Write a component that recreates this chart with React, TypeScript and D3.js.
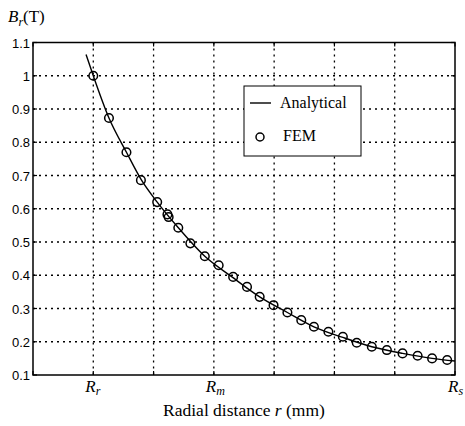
import React from "react";
import * as d3 from "d3";

// grid units along r: 0 = left axis, 7 = R_s
const xTicks = [0, 1, 2, 3, 4, 5, 6, 7];
const xTickLabels = [
  { pos: 1, main: "R", sub: "r" },
  { pos: 3, main: "R", sub: "m" },
  { pos: 7, main: "R", sub: "s" },
];
const yTicks = [0.1, 0.2, 0.3, 0.4, 0.5, 0.6, 0.7, 0.8, 0.9, 1, 1.1];

// analytical curve
const lineR = [0.88, 1.0, 1.26, 1.55, 1.8, 2.06, 2.4, 2.85, 3.3, 3.76, 4.22, 4.66, 5.14, 5.62, 6.13, 6.62, 7.0];
const lineB = [1.064, 1.0, 0.873, 0.77, 0.686, 0.62, 0.545, 0.457, 0.395, 0.335, 0.288, 0.245, 0.213, 0.185, 0.165, 0.15, 0.142];

// FEM points
const femR = [1.0, 1.26, 1.55, 1.79, 2.06, 2.23, 2.25, 2.41, 2.61, 2.85, 3.08, 3.32, 3.55, 3.76, 3.99, 4.22, 4.45, 4.66, 4.9, 5.14, 5.37, 5.62, 5.87, 6.13, 6.38, 6.62, 6.87];
const femB = [1.0, 0.873, 0.77, 0.686, 0.62, 0.583, 0.575, 0.543, 0.496, 0.457, 0.43, 0.395, 0.365, 0.335, 0.31, 0.288, 0.265, 0.245, 0.23, 0.215, 0.197, 0.185, 0.175, 0.165, 0.158, 0.15, 0.145];

const serif = "'Liberation Serif', 'Times New Roman', serif";
const sans = "'Liberation Sans', Arial, sans-serif";

export default function App() {
  const left = 33, right = 455, top = 42.5, bottom = 375;
  const x = d3.scaleLinear().domain([0, 7]).range([left, right]);
  const y = d3.scaleLinear().domain([0.1, 1.1]).range([bottom, top]);

  const pts = lineR.map((r, i) => [r, lineB[i]] as [number, number]);
  const line = d3
    .line<[number, number]>()
    .x((d) => x(d[0]))
    .y((d) => y(d[1]))
    .curve(d3.curveMonotoneX);

  return (
    <svg
      width={465}
      height={426}
      style={{ position: "absolute", left: 0, top: 0, background: "#fff" }}
    >
      <rect x={0} y={0} width={465} height={426} fill="#fff" />
      {/* grid */}
      {xTicks.slice(1, -1).map((t) => (
        <line key={"gx" + t} x1={x(t)} x2={x(t)} y1={top} y2={bottom} stroke="#000" strokeWidth={1.3} strokeDasharray="2,4" />
      ))}
      {yTicks.slice(1, -1).map((t) => (
        <line key={"gy" + t} x1={left} x2={right} y1={y(t)} y2={y(t)} stroke="#000" strokeWidth={1.3} strokeDasharray="2,4" />
      ))}
      {/* frame */}
      <rect x={left} y={top} width={right - left} height={bottom - top} fill="none" stroke="#000" strokeWidth={1.5} />
      {/* ticks */}
      {yTicks.map((t) => (
        <g key={"ty" + t}>
          <line x1={left} x2={left + 4} y1={y(t)} y2={y(t)} stroke="#000" strokeWidth={1.2} />
          <line x1={right} x2={right - 4} y1={y(t)} y2={y(t)} stroke="#000" strokeWidth={1.2} />
          <text x={left - 3} y={y(t) + 5} textAnchor="end" fontFamily={sans} fontSize={13}>
            {d3.format("")(t)}
          </text>
        </g>
      ))}
      {xTicks.map((t) => (
        <g key={"tx" + t}>
          <line x1={x(t)} x2={x(t)} y1={bottom} y2={bottom - 4} stroke="#000" strokeWidth={1.2} />
          <line x1={x(t)} x2={x(t)} y1={top} y2={top + 4} stroke="#000" strokeWidth={1.2} />
        </g>
      ))}
      {xTickLabels.map((l) => (
        <text
          key={"lx" + l.pos}
          x={x(l.pos) + (l.pos === 7 ? -7 : -8)}
          y={bottom + 17}
          fontFamily={serif}
          fontStyle="italic"
          fontSize={17}
        >
          {l.main}
          <tspan fontSize={12} dy={3}>{l.sub}</tspan>
        </text>
      ))}
      {/* curve */}
      <path d={line(pts) || ""} fill="none" stroke="#000" strokeWidth={1.4} />
      {femR.map((r, i) => (
        <circle key={"p" + i} cx={x(r)} cy={y(femB[i])} r={4.3} fill="none" stroke="#000" strokeWidth={1.5} />
      ))}
      {/* legend */}
      <rect x={244} y={86} width={117} height={70} fill="#fff" stroke="#000" strokeWidth={1} />
      <line x1={250} x2={271} y1={103} y2={103} stroke="#000" strokeWidth={1.4} />
      <text x={280} y={108} fontFamily={serif} fontSize={16}>Analytical</text>
      <circle cx={260} cy={137} r={4} fill="none" stroke="#000" strokeWidth={1.5} />
      <text x={283} y={141} fontFamily={serif} fontSize={16}>FEM</text>
      {/* axis titles */}
      <text x={8} y={22} fontFamily={serif} fontSize={17}>
        <tspan fontStyle="italic">B</tspan>
        <tspan fontStyle="italic" fontSize={12} dy={4}>r</tspan>
        <tspan dy={-4}>(T)</tspan>
      </text>
      <text x={244} y={416} textAnchor="middle" fontFamily={serif} fontSize={17.5}>
        Radial distance <tspan fontStyle="italic">r</tspan> (mm)
      </text>
    </svg>
  );
}
